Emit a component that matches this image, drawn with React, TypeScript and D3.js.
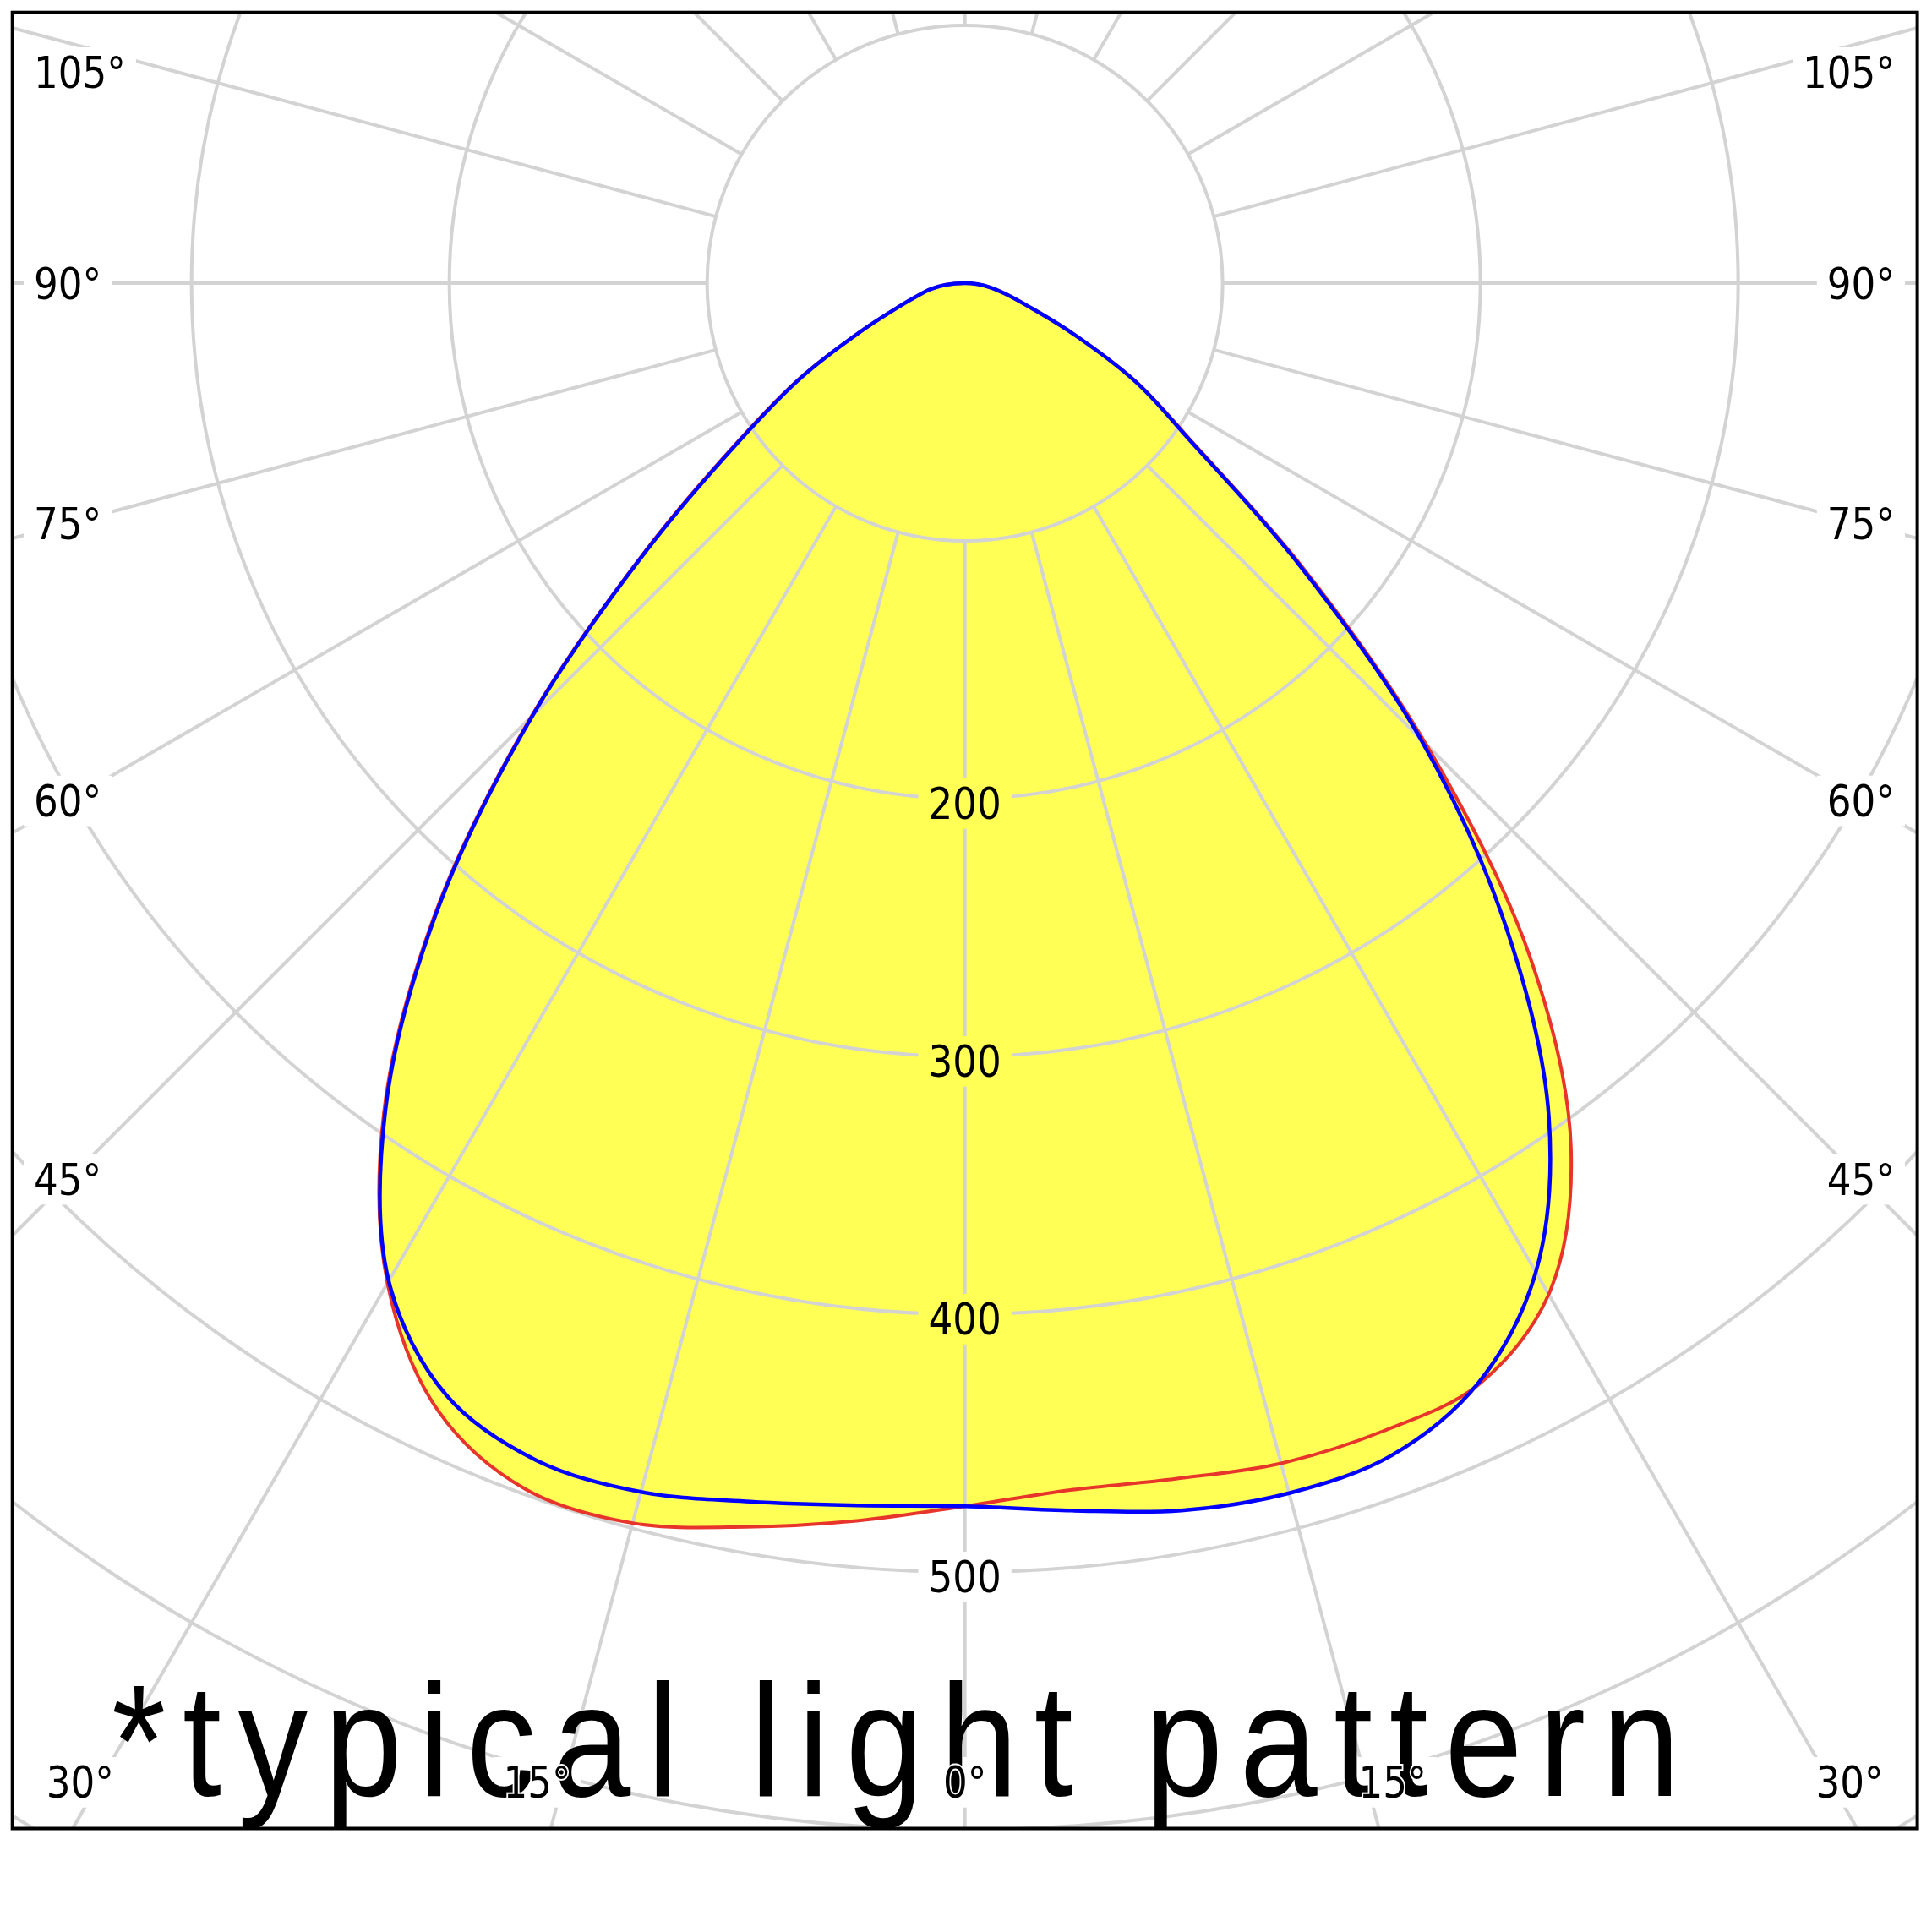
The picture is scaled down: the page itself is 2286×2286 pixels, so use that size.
import React, { useEffect, useRef } from "react";
import * as d3 from "d3";

const W = 2286;
const H = 2286;

// gamma angles (degrees from nadir) at which intensities are read
const angles = [0, 5, 10, 15, 20, 25, 30, 35, 40, 45, 50, 55, 60, 65, 70, 75, 80, 85, 90];
// red plane (C0-C180): right half and left half
const redRight = [474.5, 470, 471, 474, 474, 471.5, 453, 410, 341, 253, 170, 108, 77, 46, 26, 16.5, 10.5, 5, 0];
const redLeft = [474.5, 482, 490, 498, 498, 483, 448, 393, 320, 238, 162, 108, 74, 45, 28, 19, 13.5, 7.5, 0];
// blue plane (C90-C270): right half and left half
const blueRight = [474.5, 478, 483.5, 486, 484, 471, 443, 395, 327, 250, 168, 107, 76.5, 46, 26, 16.5, 10.5, 5, 0];
const blueLeft = [474.5, 476, 480, 485.5, 486, 476, 447, 392, 319, 237, 161, 107, 73.5, 45, 28, 19, 13.5, 7.5, 0];

const ringValues = [100, 200, 300, 400, 500, 600, 700, 800];
const ringLabels = [200, 300, 400, 500];
const rayAngles = d3.range(0, 360, 15);
const sideLabelAngles = [45, 60, 75, 90, 105];
const bottomLabelAngles = [-30, -15, 0, 15, 30];
const footnote = "*typical light pattern";

export default function App() {
  const ref = useRef<SVGSVGElement>(null);

  useEffect(() => {
    const svg = d3.select(ref.current);
    svg.selectAll("*").remove();

    const x0 = 14.7, y0 = 14.7, x1 = 2268.6, y1 = 2163.5;
    const cx = (x0 + x1) / 2;
    const cy = 335;
    const r = d3.scaleLinear().domain([0, 100]).range([0, 305]);
    const rad = (g: number) => (g * Math.PI) / 180;

    const defs = svg.append("defs");
    defs.append("clipPath").attr("id", "plotclip")
      .append("rect").attr("x", x0).attr("y", y0).attr("width", x1 - x0).attr("height", y1 - y0);
    const mask = defs.append("mask").attr("id", "gridmask")
      .attr("maskUnits", "userSpaceOnUse").attr("x", 0).attr("y", 0).attr("width", W).attr("height", H);
    mask.append("rect").attr("width", W).attr("height", H).attr("fill", "white");

    svg.append("rect").attr("width", W).attr("height", H).attr("fill", "white");
    const plot = svg.append("g").attr("clip-path", "url(#plotclip)");

    const pt = (g: number, v: number, side: number): [number, number] =>
      [cx + side * r(v) * Math.sin(rad(g)), cy + r(v) * Math.cos(rad(g))];
    const curvePts = (right: number[], left: number[]) => {
      const pts: [number, number][] = [];
      angles.forEach((g, i) => pts.push(pt(g, right[i], 1)));
      for (let i = angles.length - 2; i >= 1; i--) pts.push(pt(angles[i], left[i], -1));
      return pts;
    };
    const line = d3.line().curve(d3.curveCatmullRomClosed.alpha(0.5));
    const redD = line(curvePts(redRight, redLeft)) as string;
    const blueD = line(curvePts(blueRight, blueLeft)) as string;

    plot.append("path").attr("d", redD).attr("fill", "#ffff55");
    plot.append("path").attr("d", blueD).attr("fill", "#ffff55");

    const grid = plot.append("g").attr("mask", "url(#gridmask)")
      .attr("stroke", "#d3d3d3").attr("stroke-width", 4).attr("fill", "none");
    ringValues.forEach((v) => {
      grid.append("circle").attr("cx", cx).attr("cy", cy).attr("r", r(v));
    });
    rayAngles.forEach((a) => {
      const [xa, ya] = [cx + r(100) * Math.sin(rad(a)), cy + r(100) * Math.cos(rad(a))];
      const [xb, yb] = [cx + r(900) * Math.sin(rad(a)), cy + r(900) * Math.cos(rad(a))];
      grid.append("line").attr("x1", xa).attr("y1", ya).attr("x2", xb).attr("y2", yb);
    });

    plot.append("path").attr("d", redD).attr("fill", "none").attr("stroke", "#e8352b").attr("stroke-width", 4);
    plot.append("path").attr("d", blueD).attr("fill", "none").attr("stroke", "#0000ff").attr("stroke-width", 4.5);

    // footnote
    plot.append("text")
      .attr("transform", `translate(132,2125) scale(0.87,1)`)
      .attr("font-family", "'Liberation Sans', Arial, sans-serif")
      .attr("font-size", 190)
      .attr("textLength", 2133)
      .attr("lengthAdjust", "spacing")
      .attr("fill", "#000")
      .text(footnote);

    const labels = plot.append("g");
    const fs = 52;
    const sx = 0.87;
    const addLabel = (txt: string, x: number, yc: number, anchor: string, halo: boolean) => {
      const t = labels.append("text")
        .attr("transform", `translate(${x},${yc + 0.365 * fs}) scale(${sx},1)`)
        .attr("text-anchor", anchor)
        .attr("font-family", "'DejaVu Sans', Verdana, sans-serif")
        .attr("font-size", fs)
        .attr("fill", "#000")
        .text(txt);
      if (halo) {
        t.attr("stroke", "#fff").attr("stroke-width", 4).attr("paint-order", "stroke");
      }
      const node = t.node() as SVGTextElement;
      const bb = node.getBBox();
      const bx = x + bb.x * sx;
      const bw = bb.width * sx;
      const by = yc + 0.365 * fs + bb.y;
      mask.append("rect")
        .attr("x", bx - 12).attr("y", by).attr("width", bw + 24).attr("height", bb.height)
        .attr("fill", "black");
    };

    ringLabels.forEach((v) => addLabel(String(v), cx, cy + r(v) + 5, "middle", false));

    const D = cx - 82;
    sideLabelAngles.forEach((g) => {
      const yc = Math.max(cy + (D * Math.cos(rad(g))) / Math.sin(rad(g)), 85);
      addLabel(`${g}°`, 40, yc, "start", true);
      addLabel(`${g}°`, 2242, yc, "end", true);
    });
    bottomLabelAngles.forEach((g) => {
      const dx = (y1 + 60 - cy) * Math.tan(rad(Math.abs(g)));
      const xs = Math.max(x0 + 80, Math.min(x1 - 80, cx + Math.sign(g) * dx));
      addLabel(`${Math.abs(g)}°`, xs, 2108, "middle", true);
    });

    svg.append("rect").attr("x", x0).attr("y", y0).attr("width", x1 - x0).attr("height", y1 - y0)
      .attr("fill", "none").attr("stroke", "#000").attr("stroke-width", 4);
  }, []);

  return (
    <svg
      ref={ref}
      width={W}
      height={H}
      style={{ position: "absolute", left: 0, top: 0, display: "block" }}
    />
  );
}
